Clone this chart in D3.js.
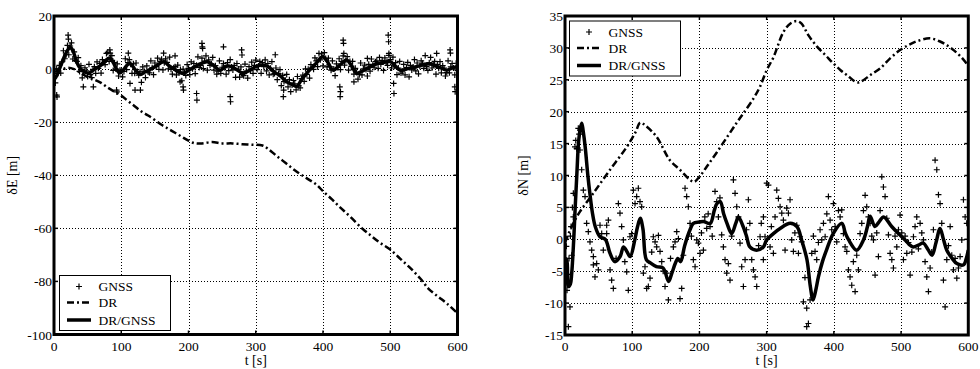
<!DOCTYPE html>
<html>
<head>
<meta charset="utf-8">
<script src="https://cdn.jsdelivr.net/npm/d3@7"></script>
<style>
  html, body { margin: 0; padding: 0; background: #fff; }
  svg { display: block; }
  text { font-family: "Liberation Serif", "Times New Roman", Times, "Nimbus Roman", "Nimbus Roman No9 L", FreeSerif, Tinos, "Noto Serif", "DejaVu Serif", serif; }
</style>
</head>
<body>
<div id="chart"></div>
<script>
// axis ticks
const timeTicks = [0, 100, 200, 300, 400, 500, 600];
const eastTicks = [20, 0, -20, -40, -60, -80, -100];
const northTicks = [35, 30, 25, 20, 15, 10, 5, 0, -5, -10, -15];
const seriesNames = ["GNSS", "DR", "DR/GNSS"];

// East error [m] vs t [s]
const drEast = [[0,-1],[10,-0.5],[20,0.5],[30,0],[40,-1.5],[50,-3],[60,-4],[70,-5.2],[80,-7],[90,-8.5],[100,-10],[110,-12],[120,-14],[130,-16],[140,-17.5],[150,-19.2],[160,-21],[170,-22.5],[180,-24],[190,-25.5],[200,-27],[210,-28],[220,-28],[235,-27.5],[250,-28],[265,-28],[280,-28.3],[295,-28.5],[310,-28.8],[318,-30],[330,-32.5],[345,-35.5],[360,-38.5],[375,-41],[390,-43.5],[400,-46],[413,-49],[425,-52],[440,-55.5],[458,-60],[470,-62.5],[485,-65.5],[500,-68],[515,-71.5],[530,-75],[545,-79],[557,-82.8],[570,-85.5],[585,-88.5],[600,-92]];

const fusedEast = [[0,-4],[4,-2.5],[8,0],[12,2.5],[16,5],[20,7],[24,8.2],[28,7],[32,4],[36,1.5],[40,0],[46,-1.2],[52,-1.5],[58,-0.5],[64,0.5],[70,1.5],[76,3],[82,4.2],[86,3.5],[92,0.5],[98,-1.5],[104,0],[110,1.8],[114,2],[120,0],[128,-2],[136,-1],[144,0],[152,1.2],[163,2.8],[170,1.5],[180,-0.2],[192,-1.6],[200,-0.5],[210,1],[220,2.2],[228,2.8],[236,1.6],[247,-0.4],[257,1.2],[268,0.4],[281,-1.5],[292,-0.3],[301,1],[310,1.5],[318,1],[326,-0.8],[336,-2.5],[346,-4.8],[354,-5.8],[361,-6.5],[368,-4],[376,-1.5],[386,1.2],[392,2.8],[399,4.6],[406,3],[415,-0.4],[425,1.5],[435,3.4],[442,1.5],[450,-1.6],[458,-0.8],[466,0.3],[480,2],[490,2.5],[500,2.8],[507,1.2],[515,-0.4],[528,0.3],[540,1],[550,1.7],[559,2],[568,1.1],[576,0.4],[584,-0.4],[592,0.4],[600,1]];

const gnssEast = [[0,-3.2],[2,-5.2],[4,0.1],[6,-1.6],[8,1.4],[10,-1.5],[12,2.7],[14,6.9],[16,3.9],[18,5.4],[20,8.9],[22,5.4],[24,8.7],[26,9.9],[28,3.8],[30,6.5],[32,3.2],[34,2.9],[36,4.3],[38,-0.9],[40,1.3],[42,-3.3],[44,-1],[46,0.5],[48,-0.7],[50,-2.8],[52,1.8],[54,-2.1],[56,-3.2],[58,-0.1],[60,0.9],[62,-1.6],[64,2.7],[66,0.3],[68,2.1],[70,-1.5],[72,3.6],[74,2.5],[76,1.7],[78,5.9],
[80,6.3],[82,2.9],[84,3.9],[86,5.1],[88,-0.5],[90,2.4],[92,0],[94,2],[96,-2.6],[98,-0.4],[100,-0.6],[102,-2.9],[104,-0.9],[106,3.9],[108,-0.2],[110,2.4],[112,3.6],[114,1.8],[116,-1.6],[118,2],[120,-1.6],[122,2.3],[124,-0.9],[126,-2.3],[128,-1],[130,-5],[132,0.8],[134,-0.8],[136,-3.2],[138,1.2],[140,-1.1],[142,-1.4],[144,3.1],[146,0.5],[148,-2.1],[150,2.3],[152,0.9],[154,4.1],[156,-0.1],[158,2.9],
[160,3.7],[162,-0.3],[164,2.4],[166,3.9],[168,2.5],[170,0.1],[172,4.5],[174,-0.1],[176,-1.9],[178,0.5],[180,0.9],[182,-2.2],[184,1.5],[186,-1.4],[188,-0.2],[190,-4.4],[192,0],[194,-1.3],[196,-2.4],[198,1.7],[200,0.3],[202,-2.1],[204,2.7],[206,0.1],[208,2.1],[210,-1.7],[212,1.4],[214,4.6],[216,0.6],[218,1.4],[220,4.1],[222,0.2],[224,3],[226,5],[228,-0.4],[230,3.5],[232,1.4],[234,2],[236,4.4],[238,-0.4],
[240,1.3],[242,-1.9],[244,-0.8],[246,3.1],[248,-1.6],[250,0.7],[252,2.1],[254,0.5],[256,-1.9],[258,2.4],[260,-0.6],[262,3.6],[264,0.8],[266,-0.3],[268,1.4],[270,-3.1],[272,2.1],[274,0],[276,-3],[278,0.8],[280,-2],[282,-2.5],[284,1.9],[286,-0.8],[288,-3.4],[290,0.9],[292,-0.6],[294,2.6],[296,-1.6],[298,1.4],[300,3.4],[302,-0.2],[304,1.2],[306,2.9],[308,-1.6],[310,2.4],[312,0.9],[314,3.5],[316,-0.7],[318,2.1],
[320,-2.2],[322,0.3],[324,2.8],[326,-1.9],[328,-1.7],[330,0.4],[332,-4],[334,-1.7],[336,-0.2],[338,-6.2],[340,-2.4],[342,-4.7],[344,-4.2],[346,-2],[348,-6.7],[350,-4],[352,-8.5],[354,-6],[356,-4.3],[358,-5.6],[360,-7.8],[362,-2.8],[364,-6.3],[366,-7.1],[368,-3.6],[370,-2.3],[372,-4.6],[374,0.1],[376,-2],[378,-0.1],[380,-3.4],[382,1.7],[384,0.7],[386,-0.1],[388,4.2],[390,3.1],[392,0.9],[394,5.9],[396,3.5],[398,5.7],
[400,1.2],[402,6.2],[404,4],[406,0.8],[408,4.1],[410,0.9],[412,-0.4],[414,3.1],[416,0],[418,-2.5],[420,2],[422,0.6],[424,3.9],[426,-0.2],[428,2.9],[430,5],[432,1.5],[434,3.2],[436,4.7],[438,-0.4],[440,2.9],[442,1],[444,2.9],[446,-1.9],[448,0.3],[450,-1.2],[452,-3.8],[454,-2.1],[456,2.3],[458,-2.2],[460,0.1],[462,1.5],[464,-0.2],[466,-2.6],[468,1.8],[470,-0.8],[472,3.8],[474,1.4],[476,0.7],[478,2.8],
[480,3.1],[482,0.3],[484,4.4],[486,1.8],[488,3.3],[490,-0.5],[492,4.2],[494,2.6],[496,1.4],[498,5.2],[500,3.6],[502,0.4],[504,4.5],[506,1.1],[508,2.4],[510,-2.1],[512,0.4],[514,2.9],[516,-1.5],[518,-0.8],[520,1.8],[522,-2.2],[524,0.6],[526,2.5],[528,-2.9],[530,1.4],[532,-0.3],[534,0.8],[536,3.6],[538,-0.7],[540,2.3],[542,-1.8],[544,1.1],[546,3.1],[548,2.2],[550,0.3],[552,5.1],[554,0.9],[556,-0.5],[558,2.4],
[560,4.4],[562,0.4],[564,1.5],[566,2.9],[568,-1.9],[570,1.8],[572,0.3],[574,2.8],[576,-1.4],[578,1.3],[580,0.4],[582,-2.6],[584,-1.3],[586,3.1],[588,-1.4],[590,0.8],[592,2.1],[594,0.4],[596,-2.2],[598,2.2],[600,-0.6]];

const gnssEastOutliers = [[4,-9.8],[4.5,-10.5],[21,12.8],[21.5,11.3],[43.6,-6.7],[58.5,-6.7],[83,7.2],[83.5,6],[93,-7.9],[93.5,-8.6],[110.5,6],[113,-5.4],[120.5,-7.9],[128.5,-7.9],[163,6],[180,5],[187.5,-4.8],[192,-6.7],[192.5,-7.9],[212,-9.2],[212.5,-11.7],[220,9.7],[220.5,8.4],[221,7.8],[252,8.4],[262,-10.4],[262.5,-12.3],[279,7.2],[279.5,5.3],[329,5.4],[341,-10.4],[341.5,-7.9],[425,-6.7],[425.5,-10.4],[426,-8.5],[430,10.9],[430.5,9.7],[431,5.9],[446,-4.8],[466,4],[497,12.8],[497.5,10.3],[498,5.9],[505,-5.4],[505.5,-9.2],[569,5.9],[589,7.2],[589.5,6],[596,-6.7],[596.5,-8.5]];

// North error [m] vs t [s]
const drNorth = [[0,-0.5],[10,2],[22,4.3],[42,7.2],[67,10.9],[92,14.5],[105,16.8],[112,18.3],[120,17.8],[136,16.1],[156,12.4],[171,10.9],[185,9.4],[192,9],[200,9.8],[211,11.4],[225,13.5],[241,16],[255,18.2],[265,19.7],[280,22],[290,23.9],[300,26.5],[310,28.5],[325,32.5],[335,33.8],[345,34.2],[352,33.8],[362,32],[375,30.2],[388,28.8],[399,27.6],[410,26.5],[420,25.7],[434,24.6],[440,24.7],[455,25.8],[469,26.8],[485,28.5],[499,29.7],[512,30.5],[525,31.1],[543,31.5],[558,31],[570,30.3],[580,29.5],[590,28.5],[600,27.2]];

const fusedNorth = [[0,-3],[2.5,-3.2],[5,-7.4],[8,-7],[10,-5.3],[13,0],[15,4.6],[18,11],[20,15],[23,17.5],[25,18.2],[27,17],[30,14.5],[34,10],[37,7.2],[41,4],[45,2],[52,0.4],[60,0],[67,-2.2],[74,-3.5],[82,-2.7],[87,-1.2],[92,-1.9],[97,-2.7],[104,0],[108,2],[112,3.3],[116,1.6],[121,-3.2],[127,-3.7],[136,-4.3],[146,-4.5],[154,-6.6],[159,-5.3],[164,-3.8],[168,-3],[172,-3.5],[178,-1],[186,1.5],[191,2.5],[200,2.7],[206,2.8],[216,2.5],[222,4.5],[226,5.6],[231,5.9],[236,4],[241,2.5],[248,0.9],[254,2.5],[258,3.5],[265,2],[270,0.5],[275,-1.2],[285,-1.7],[295,-1.2],[300,-0.1],[310,0.9],[320,1.7],[335,2.5],[345,2],[352,-0.1],[360,-3.2],[365,-7.4],[369,-9.5],[373,-8],[377,-5.9],[383,-3.5],[389,-1.7],[399,0.9],[412,2.5],[417,1],[422,-0.1],[434,-1.7],[444,-0.1],[450,2],[454,3.6],[461,2],[467,2.7],[474,3.5],[486,2],[496,0.9],[506,-0.1],[512,-0.8],[518,-1.2],[526,-0.9],[533,-0.6],[540,-1.6],[546,-2.5],[552,-0.5],[558,1.7],[563,0],[568,-1.7],[576,-3],[583,-3.8],[593,-4],[597,-3],[600,-1.7]];

const gnssNorth = [[0,-4],[1,-6.5],[2,-1.1],[3,-8],[4,-5.5],[5,-13.7],[6,-3],[7.4,-10.6],[8,0.5],[9,2],[10,-2.5],[11,5],[12.4,7.2],[12.4,3.5],[14.9,14.5],[16,15.5],[17.4,14.2],[19.8,17.4],[21,16.5],[22.3,17.1],[22.3,14],[24.8,10.9],[27.3,7.7],[29.8,6.7],[32.2,2.5],[34.7,1.2],[37.2,-0.4],[39.7,-1.7],[42.2,-2.7],[42.2,-4],[44.6,-5.9],[47.1,-3.8],[49.6,-4.8],[52.1,2.2],[54.6,0.9],[57,-1.7],[62,2.2],[62,0.9],[64.5,3],[67,-4.8],[69.4,-6.4],[71.9,-7.7],[76,-3],[79.4,5.6],[81.8,4.1],[84.3,2],[86.8,-0.1],[89,-3.5],[91.8,-5.1],[94.2,-8],[96.7,0.4],[99.2,0.9],[101.7,7.7],[104.2,5.6],[106.6,6.7],[109.1,8],[111.6,5.9],[114.1,5.1],[116.6,-5.3],[119,-4.3],[121.5,-7.7],[124,-7.4],[126.5,-6.1],[129,-2],[131.4,0.4],[134,-0.4],[136.4,-1.2],[139,0.6],[141.4,-1.9],[143.9,-3.5],[146,-5],[148.8,-7.4],[151.3,-5.3],[153.8,-9.5],[157,-3],[161.2,-1.2],[163.7,-0.4],[166.2,1.2],[168.7,0.1],[171.1,-9.3],[173.6,-7.7],[176,-2.5],[178.6,8],[181,6.7],[183.5,5.1],[186,2.5],[188,0.5],[191,-3.2],[193.5,-4.3],[196,-0.1],[198.4,-0.6],[200.9,-2.2],[203,1],[205.9,-1.7],[208,3.5],[210.8,1.7],[213,4],[215.8,2],[219,0.5],[223.2,7.5],[225.7,5.9],[228.2,3.5],[230.5,6.5],[233.1,0.7],[235.6,-1.2],[238.1,-3.2],[240.6,-5.3],[243,-3.8],[245.5,-6.4],[248,0.5],[250.5,9.3],[253,7.2],[255.5,5.1],[258,3.5],[260.4,-0.6],[262.9,-4.3],[265.4,-7.4],[267.9,-3.2],[270,1.5],[272.8,6.2],[275,2.5],[277.8,-3.2],[280.3,-4.8],[282.8,-5.9],[285.2,-7.4],[288,-1],[290.2,0.4],[292,2.5],[295.1,-3.2],[295.2,3.5],[297.6,0.4],[300.1,8.8],[302.6,8.5],[305.1,-1.2],[307,2],[310,-2.2],[312.5,3.5],[315,7.7],[317.5,6.4],[320,5.1],[322.5,4.1],[324.9,3],[327.4,-1.7],[329.9,4.9],[332.4,4.1],[334.8,6.2],[337.3,-0.1],[339.8,-1.9],[342,1],[344.8,2.2],[347.3,-2.2],[349.7,0.4],[352.2,-0.4],[354.7,-9.8],[357,-6],[359.6,-10.8],[359.6,-13.7],[362.1,-13.2],[364.6,-9.5],[367.1,-2.2],[369.5,0.5],[372,-1.9],[374.5,-3.2],[377,-0.5],[379.5,1.5],[382,-0.1],[384.5,2.5],[387,0.4],[389.5,4],[391.9,6.7],[394.4,3],[396.8,1.5],[399.3,5.6],[401.8,2],[404.3,-0.4],[406.8,4.5],[409.3,3.5],[411.7,4.6],[414.2,0.9],[416.7,-1.2],[419.2,-1.9],[421.7,-4.8],[424.1,-5.9],[426.6,-7.2],[429,-3.5],[431.6,-8.2],[434,-2.5],[436.5,-4.8],[439,0.9],[441.5,2.5],[444,4.5],[446.5,6.9],[448.9,5.1],[451.4,3.5],[453.9,2.5],[456.4,0.5],[458.9,-0.1],[461.3,-5.6],[463.8,1],[466.3,-2.7],[468.8,4.5],[471.3,9.8],[473.7,8.2],[476.2,6.7],[478.7,3.3],[481.2,0.7],[483.7,-2.2],[486.2,-3.2],[488.6,-4.5],[491,0.5],[493.6,-1.2],[496.1,1.5],[498.5,3.8],[501,1],[503.5,-3.2],[506,0.5],[508.5,-2.2],[511,-0.5],[513.4,-5.6],[516,-2],[518.4,0.4],[520.8,2],[523.3,3.5],[525.8,-1.5],[528.3,2.5],[530.8,1],[533.3,-0.1],[535.7,-3.5],[538.2,-5.9],[540.7,-8.2],[543.2,-4.5],[545.6,-2],[548.1,1.5],[550.6,12.4],[553.1,10.9],[555.6,7],[558,5.6],[560.5,2.5],[563,-6.4],[565.5,-10.6],[568,-3.2],[570.5,-1],[573,2],[575.4,-2.5],[577.9,-4.8],[580.4,-3],[582.9,-6.1],[585.3,-4.5],[587.8,-2.7],[590.3,-0.1],[592.8,6.2],[595.3,3.5],[597.7,2.5],[600,-3]];

const svg = d3.select("#chart")
  .append("svg")
  .attr("width", 980)
  .attr("height", 369);

const plusPath = "M-3,0H3M0,-3V3";
const drDash = "7,3,2,3";

function drawPanel(p) {
  const x = d3.scaleLinear().domain([0, 600]).range([p.left, p.right]);
  const y = d3.scaleLinear().domain([p.yTicks[p.yTicks.length - 1], p.yTicks[0]]).range([p.bottom, p.top]);
  const g = svg.append("g");

  const clipId = "clip-" + p.id;
  svg.append("clipPath").attr("id", clipId)
    .append("rect")
    .attr("x", p.left).attr("y", p.top)
    .attr("width", p.right - p.left).attr("height", p.bottom - p.top);

  // dotted grid
  const grid = g.append("g")
    .attr("stroke", "#000")
    .attr("stroke-width", 1)
    .attr("stroke-dasharray", "1,2");
  grid.selectAll(".vx").data(timeTicks.slice(1, -1)).join("line")
    .attr("x1", d => Math.round(x(d)) + 0.5).attr("x2", d => Math.round(x(d)) + 0.5)
    .attr("y1", p.top).attr("y2", p.bottom);
  grid.selectAll(".hy").data(p.yTicks.slice(1, -1)).join("line")
    .attr("y1", d => Math.round(y(d)) + 0.5).attr("y2", d => Math.round(y(d)) + 0.5)
    .attr("x1", p.left).attr("x2", p.right);

  // small inward ticks on all sides
  const ticks = g.append("g").attr("stroke", "#000").attr("stroke-width", 1.5);
  timeTicks.forEach(t => {
    ticks.append("line").attr("x1", x(t)).attr("x2", x(t)).attr("y1", p.bottom).attr("y2", p.bottom - 4);
    ticks.append("line").attr("x1", x(t)).attr("x2", x(t)).attr("y1", p.top).attr("y2", p.top + 4);
  });
  p.yTicks.forEach(v => {
    ticks.append("line").attr("x1", p.left).attr("x2", p.left + 4).attr("y1", y(v)).attr("y2", y(v));
    ticks.append("line").attr("x1", p.right).attr("x2", p.right - 4).attr("y1", y(v)).attr("y2", y(v));
  });

  const data = g.append("g").attr("clip-path", `url(#${clipId})`);

  // GNSS fixes
  data.append("g")
    .selectAll("path")
    .data(p.gnss)
    .join("path")
    .attr("d", plusPath)
    .attr("transform", d => `translate(${x(d[0])},${y(d[1])})`)
    .attr("stroke", "#000")
    .attr("stroke-width", 1.2)
    .attr("fill", "none");

  const line = d3.line()
    .x(d => x(d[0]))
    .y(d => y(d[1]))
    .curve(d3.curveCatmullRom);

  data.append("path")
    .datum(p.dr)
    .attr("d", line)
    .attr("fill", "none")
    .attr("stroke", "#000")
    .attr("stroke-width", 2.5)
    .attr("stroke-dasharray", drDash);

  data.append("path")
    .datum(p.fused)
    .attr("d", line)
    .attr("fill", "none")
    .attr("stroke", "#000")
    .attr("stroke-width", 3.5)
    .attr("stroke-linejoin", "round");

  // frame
  g.append("rect")
    .attr("x", p.left).attr("y", p.top)
    .attr("width", p.right - p.left).attr("height", p.bottom - p.top)
    .attr("fill", "none")
    .attr("stroke", "#000")
    .attr("stroke-width", 3);

  // tick labels
  g.append("g")
    .attr("font-size", 13.5)
    .attr("text-anchor", "middle")
    .selectAll("text")
    .data(timeTicks)
    .join("text")
    .attr("x", d => x(d))
    .attr("y", 351)
    .text(d => d);

  g.append("g")
    .attr("font-size", 13.5)
    .attr("text-anchor", "end")
    .selectAll("text")
    .data(p.yTicks)
    .join("text")
    .attr("x", p.left - 2)
    .attr("y", d => y(d) + 5)
    .text(d => d);

  g.append("text")
    .attr("x", (p.left + p.right) / 2)
    .attr("y", 365)
    .attr("font-size", 14)
    .attr("text-anchor", "middle")
    .text("t [s]");

  g.append("text")
    .attr("transform", `translate(${p.yLabelX},${(p.top + p.bottom) / 2}) rotate(-90)`)
    .attr("font-size", 14)
    .attr("text-anchor", "middle")
    .text(p.yLabel);

  // legend
  const lg = g.append("g").attr("transform", `translate(${p.legend[0]},${p.legend[1]})`);
  lg.append("rect")
    .attr("x", 0.5).attr("y", 0.5)
    .attr("width", 111).attr("height", 55)
    .attr("fill", "#fff")
    .attr("stroke", "#000")
    .attr("stroke-width", 1);
  const rowY = [11.5, 27.5, 45];
  lg.append("path").attr("d", plusPath)
    .attr("transform", `translate(20,${rowY[0]})`)
    .attr("stroke", "#000").attr("stroke-width", 1.2);
  lg.append("line").attr("x1", 8).attr("x2", 32).attr("y1", rowY[1]).attr("y2", rowY[1])
    .attr("stroke", "#000").attr("stroke-width", 2.5).attr("stroke-dasharray", drDash);
  lg.append("line").attr("x1", 8).attr("x2", 32).attr("y1", rowY[2]).attr("y2", rowY[2])
    .attr("stroke", "#000").attr("stroke-width", 3.5);
  lg.selectAll("text")
    .data(seriesNames)
    .join("text")
    .attr("x", 39.5)
    .attr("y", (d, i) => rowY[i] + 4.5)
    .attr("font-size", 13.5)
    .text(d => d);
}

drawPanel({
  id: "east", left: 54, right: 457.5, top: 16, bottom: 334.5,
  yTicks: eastTicks, yLabel: "δE [m]", yLabelX: 17,
  gnss: gnssEast.concat(gnssEastOutliers), dr: drEast, fused: fusedEast,
  legend: [59, 275]
});

drawPanel({
  id: "north", left: 565, right: 968.3, top: 16, bottom: 335,
  yTicks: northTicks, yLabel: "δN [m]", yLabelX: 528,
  gnss: gnssNorth, dr: drNorth, fused: fusedNorth,
  legend: [569, 20.5]
});
</script>
</body>
</html>
